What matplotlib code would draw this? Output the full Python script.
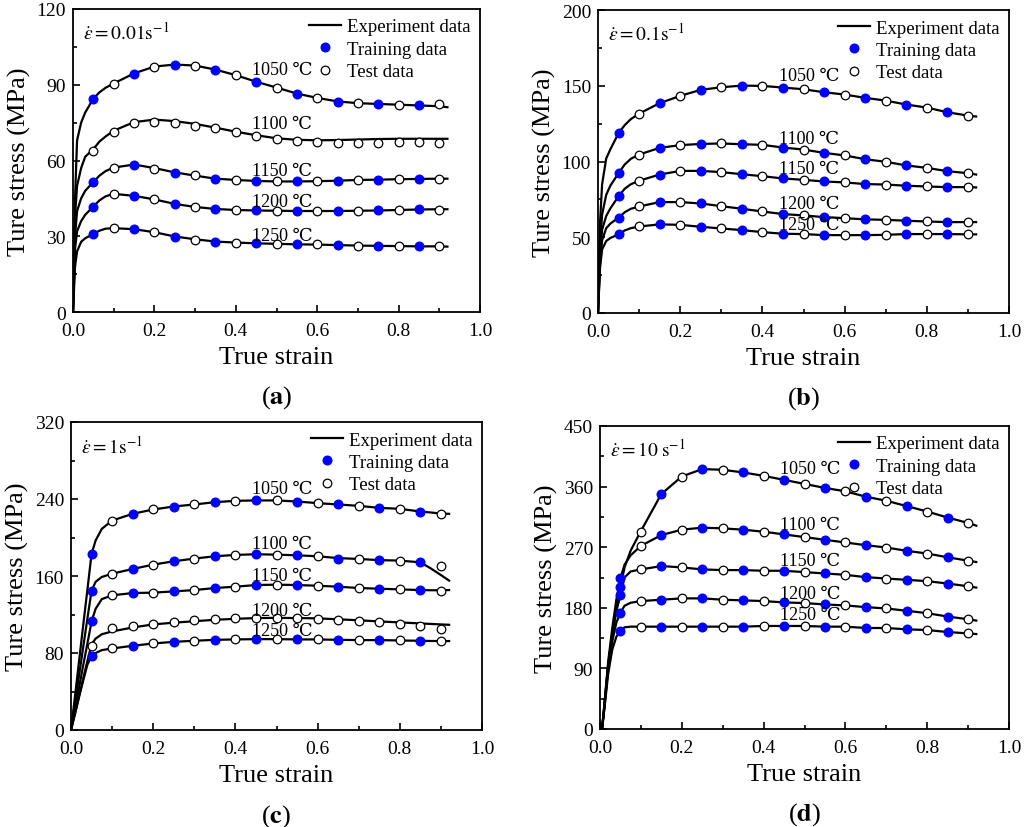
import matplotlib
matplotlib.use("Agg")
import matplotlib.pyplot as plt
from matplotlib.lines import Line2D
from matplotlib.ticker import MultipleLocator

plt.rcParams['font.family'] = ['Liberation Serif', 'DejaVu Serif']
plt.rcParams['mathtext.fontset'] = 'stix'

temps = [1050, 1100, 1150, 1200, 1250]

# strain of the model points (training / test)
pred_strain = [0.05, 0.10, 0.15, 0.20, 0.25, 0.30, 0.35, 0.40, 0.45,
               0.50, 0.55, 0.60, 0.65, 0.70, 0.75, 0.80, 0.85, 0.90]
train_strain = [0.05, 0.15, 0.25, 0.35, 0.45, 0.55, 0.65, 0.75, 0.85]

# ---------- (a) 0.01 s-1 ----------
exp_strain_a = [0, 0.005, 0.01, 0.02, 0.03, 0.05, 0.065, 0.08, 0.1, 0.15, 0.2, 0.25, 0.3,
                0.35, 0.4, 0.45, 0.5, 0.55, 0.6, 0.65, 0.7, 0.75, 0.8, 0.85, 0.9, 0.92]
exp_a = {
    1050: [0, 45, 68, 75, 79, 84.5, 87, 88.8, 90.5, 94.5, 97.2, 98.0, 97.6, 96.0, 93.8, 91.2,
           88.9, 86.5, 84.8, 83.4, 82.7, 82.4, 82.1, 81.8, 81.5, 81.1],
    1100: [0, 38, 50, 57, 61.5, 64.5, 67.5, 69.5, 71.8, 75.2, 76.2, 75.6, 74.5, 73.0, 71.4, 70.0,
           68.8, 68.2, 68.0, 68.1, 68.3, 68.5, 68.6, 68.6, 68.6, 68.6],
    1150: [0, 30, 40, 45, 48, 51.5, 54, 55.8, 57.2, 58.4, 57.0, 55.3, 54.0, 52.8, 52.3, 51.9,
           51.7, 51.7, 51.8, 52.0, 52.3, 52.4, 52.6, 52.7, 52.8, 52.8],
    1200: [0, 25, 32, 36, 38.5, 41.8, 44.2, 45.8, 46.8, 46.0, 44.6, 42.8, 41.6, 40.8, 40.4, 40.2,
           40.1, 40.0, 40.0, 40.0, 40.1, 40.2, 40.4, 40.6, 40.7, 40.7],
    1250: [0, 18, 24, 27.8, 29.2, 30.9, 32.2, 33.0, 33.2, 32.8, 31.6, 29.9, 28.8, 27.9, 27.5, 27.2,
           27.0, 26.8, 26.7, 26.5, 26.3, 26.2, 26.1, 26.0, 26.0, 25.9],
}
pred_a = {
    1050: [84.4, 90.2, 94.4, 97.1, 98.0, 97.5, 95.9, 93.8, 91.1, 88.9, 86.4, 84.9, 83.3, 82.7, 82.4, 82.0, 81.9, 82.4],
    1100: [63.6, 71.3, 74.8, 75.2, 74.9, 73.8, 72.7, 71.2, 69.9, 68.6, 67.8, 67.3, 67.0, 67.0, 67.1, 67.2, 67.2, 67.0],
    1150: [51.3, 57.0, 58.3, 56.7, 55.1, 54.1, 52.7, 52.4, 51.8, 51.7, 51.7, 51.7, 52.0, 52.4, 52.2, 52.7, 52.7, 52.7],
    1200: [41.5, 46.6, 46.0, 44.7, 42.6, 41.5, 40.7, 40.5, 40.2, 40.1, 40.0, 40.0, 40.0, 40.1, 40.2, 40.5, 40.7, 40.5],
    1250: [30.7, 33.1, 32.7, 31.5, 29.8, 28.7, 27.8, 27.4, 27.2, 27.0, 26.8, 26.8, 26.4, 26.2, 26.2, 26.1, 26.0, 26.0],
}
label_y_a = [96.2, 74.5, 56, 43.8, 30.2]

# ---------- (b) 0.1 s-1 ----------
exp_strain_b = exp_strain_a
exp_b = {
    1050: [0, 60, 85, 102, 108, 118.7, 124, 128, 131.6, 138.5, 143.3, 147.3, 149.0, 150.1, 149.9,
           148.8, 147.7, 145.7, 144.2, 142.0, 140.2, 137.6, 135.6, 132.5, 130.3, 129.7],
    1100: [0, 45, 65, 78, 84, 92.3, 98, 101.8, 104.6, 109.0, 110.8, 111.6, 111.9, 111.4, 111.0,
           109.2, 107.9, 105.7, 104.0, 101.5, 99.8, 97.4, 95.8, 93.6, 92.3, 91.4],
    1150: [0, 38, 55, 64, 69, 77.1, 82, 85, 87.3, 91.4, 93.8, 93.8, 93.0, 91.6, 90.3, 88.8, 87.9,
           86.8, 86.2, 85.1, 84.8, 84.0, 83.5, 83.1, 83.1, 82.9],
    1200: [0, 33, 48, 56, 59, 62.9, 66.5, 68.8, 70.3, 73.2, 73.2, 72.3, 70.5, 68.8, 67.0, 65.3,
           64.4, 63.3, 62.6, 61.8, 61.5, 60.9, 60.4, 60.0, 60.0, 60.0],
    1250: [0, 30, 42, 47.5, 49.5, 51.9, 54.5, 56, 57.1, 58.5, 58.2, 56.9, 55.8, 54.7, 53.4, 52.3,
           52.1, 51.4, 51.4, 51.4, 51.6, 52.1, 52.1, 52.1, 51.9, 51.9],
}
pred_b = {
    1050: [118.7, 131.6, 138.5, 143.3, 147.3, 149.0, 150.1, 149.9, 148.8, 147.7, 145.7, 144.2, 142.0, 140.2, 137.6, 135.6, 132.5, 130.3],
    1100: [92.3, 104.6, 109.0, 110.8, 111.6, 111.9, 111.4, 111.0, 109.2, 107.9, 105.7, 104.0, 101.5, 99.8, 97.4, 95.8, 93.6, 92.3],
    1150: [77.1, 87.3, 91.4, 93.8, 93.8, 93.0, 91.6, 90.3, 88.8, 87.9, 86.8, 86.2, 85.1, 84.8, 84.0, 83.5, 83.1, 83.1],
    1200: [62.9, 70.3, 73.2, 73.2, 72.3, 70.5, 68.8, 67.0, 65.3, 64.4, 63.3, 62.6, 61.8, 61.5, 60.9, 60.4, 60.0, 60.0],
    1250: [51.9, 57.1, 58.5, 58.2, 56.9, 55.8, 54.7, 53.4, 52.3, 52.1, 51.4, 51.4, 51.4, 51.6, 52.1, 52.1, 52.1, 51.9],
}
label_y_b = [157, 115.3, 95.5, 72.2, 58.5]

# ---------- (c) 1 s-1 ----------
exp_strain_c = [0, 0.01, 0.02, 0.03, 0.04, 0.05, 0.06, 0.075, 0.1, 0.15, 0.2, 0.25, 0.3, 0.35,
                0.4, 0.45, 0.5, 0.55, 0.6, 0.65, 0.7, 0.75, 0.8, 0.85, 0.875, 0.9, 0.92]
exp_c = {
    1050: [0, 36, 73, 110, 146, 183, 197, 209, 217.6, 224.6, 229.1, 232.2, 234.3, 236.7, 238.1,
           238.5, 238.5, 237.4, 235.7, 234.3, 232.9, 230.8, 229.8, 227.0, 226, 224.9, 224.6],
    1100: [0, 29, 58, 87, 116, 144.7, 154, 159, 162.4, 167.3, 171.8, 175.3, 178.1, 180.5, 181.9,
           182.6, 182.2, 181.5, 180.5, 178.6, 177.7, 176.5, 176.0, 174.2, 168, 161, 155.2],
    1150: [0, 22, 45, 68, 90, 112.8, 126, 136, 139.9, 142.3, 142.7, 144.0, 145.4, 147.5, 148.9,
           150.6, 151.0, 150.6, 149.9, 148.9, 147.5, 146.8, 146.1, 145.4, 145.2, 145.2, 145.4],
    1200: [0, 18, 36, 54, 72, 89, 95, 99.5, 102.4, 106.5, 109.7, 111.5, 113.0, 114.5, 115.5,
           116.3, 116.5, 116.3, 116.0, 115.0, 114.0, 112.8, 111.8, 110.7, 110.2, 109.7, 109.3],
    1250: [0, 17, 35, 52, 68, 76.4, 80, 83, 84.7, 87.5, 89.9, 91.6, 92.7, 93.7, 94.1, 94.4, 94.4,
           94.1, 94.1, 93.7, 93.4, 93.4, 93.0, 92.7, 92.5, 92.4, 92.4],
}
pred_c = {
    1050: [183.3, 217.6, 224.6, 229.1, 232.2, 234.3, 236.7, 238.1, 238.5, 238.5, 237.4, 235.7, 234.3, 232.9, 230.8, 229.8, 227.0, 224.9],
    1100: [144.7, 162.4, 167.3, 171.8, 175.3, 178.1, 180.5, 181.9, 182.6, 182.2, 181.5, 180.5, 178.1, 177.7, 176.3, 176.0, 174.2, 170.1],
    1150: [112.8, 139.9, 142.3, 142.7, 144.0, 145.4, 147.5, 148.9, 150.6, 151.0, 150.6, 149.9, 148.9, 147.5, 146.8, 146.1, 145.4, 144.4],
    1200: [87.5, 105.5, 108.3, 110.4, 112.5, 113.8, 115.2, 115.9, 116.3, 116.3, 116.3, 115.2, 114.5, 113.5, 112.1, 110.0, 107.6, 105.2],
    1250: [76.4, 84.7, 87.5, 89.9, 91.6, 92.7, 93.7, 94.1, 94.4, 94.4, 94.1, 94.1, 93.7, 93.4, 93.4, 93.0, 92.7, 92.0],
}
label_y_c = [251, 193.3, 160.3, 123.9, 103]

# ---------- (d) 10 s-1 ----------
exp_strain_d = [0.005, 0.01, 0.02, 0.03, 0.04, 0.05, 0.06, 0.075, 0.1, 0.15, 0.2, 0.25, 0.3,
                0.35, 0.4, 0.45, 0.5, 0.55, 0.6, 0.65, 0.7, 0.75, 0.8, 0.85, 0.9, 0.92]
exp_d = {
    1050: [0, 30, 95, 140, 178, 211, 240, 265, 294, 349, 375, 386, 385, 381, 376, 370, 364, 358,
           353, 345, 339, 331, 323, 314, 306, 302],
    1100: [0, 32, 100, 150, 192, 224, 244, 258, 272, 288, 296, 299, 298, 296, 293, 289, 285, 281,
           277, 273, 269.5, 264.6, 260.6, 255, 250, 248],
    1150: [0, 30, 95, 140, 175, 199, 225, 234, 237, 242, 240, 237, 236, 236, 235, 235, 233, 231,
           229, 225.5, 223.5, 221.5, 219.6, 216, 212, 210],
    1200: [0, 28, 90, 130, 158, 173, 183, 187.5, 190, 192, 194, 194, 192, 191, 190, 188, 187, 185,
           183.5, 181, 179, 175.6, 172, 167, 163, 161],
    1250: [0, 26, 82, 118, 137, 146, 151, 152, 152, 152, 152, 152, 152, 152, 153, 153, 153, 152,
           152, 150, 150, 148, 147, 144, 142, 141],
}
pred_d = {
    1050: [211, 293, 348.6, 375, 386, 385, 381, 376, 370, 364, 358, 353, 345, 339, 331, 323, 314, 306],
    1100: [224, 272, 288, 296, 299, 298, 296, 293, 289, 285, 281, 277, 273, 269.5, 264.6, 260.6, 255, 250],
    1150: [199, 237, 242, 240, 237, 236, 236, 235, 235, 233, 231, 229, 225.5, 223.5, 221.5, 219.6, 216, 212],
    1200: [173, 190, 192, 194, 194, 192, 191, 190, 188, 187, 185, 183.5, 181, 179, 175.6, 172, 167, 163],
    1250: [146, 152, 152, 152, 152, 152, 152, 153, 153, 153, 152, 152, 150, 150, 148, 147, 144, 142],
}
label_y_d = [386.8, 304, 249.7, 201.8, 170.6]

panels = [
    ('a', r'$\dot{\varepsilon}=0.01\mathrm{s}^{-1}$', exp_strain_a, exp_a, pred_a, label_y_a, 120, 30, [1100]),
    ('b', r'$\dot{\varepsilon}=0.1\mathrm{s}^{-1}$', exp_strain_b, exp_b, pred_b, label_y_b, 200, 50, []),
    ('c', r'$\dot{\varepsilon}=1\mathrm{s}^{-1}$', exp_strain_c, exp_c, pred_c, label_y_c, 320, 80, [1200]),
    ('d', r'$\dot{\varepsilon}=10\;\mathrm{s}^{-1}$', exp_strain_d, exp_d, pred_d, label_y_d, 450, 90, []),
]

W, H = 1024, 828
# axes boxes in pixels: left, top, right, bottom
boxes = [(73, 10, 480, 313), (598, 11, 1009, 314), (71, 423, 482, 731), (600, 427, 1009, 730)]

fig = plt.figure(figsize=(W / 100, H / 100), dpi=100)

for (tag, rate, xs, exp, pred, lab_y, ymax, ystep, test_only), (l, t, r, b) in zip(panels, boxes):
    ax = fig.add_axes([l / W, 1 - b / H, (r - l) / W, (b - t) / H])

    for k, T in enumerate(temps):
        ax.plot(xs, exp[T], color='black', lw=1.6, zorder=2)
        is_train = [s in train_strain and T not in test_only for s in pred_strain]
        tr_x = [s for s, f in zip(pred_strain, is_train) if f]
        tr_y = [v for v, f in zip(pred[T], is_train) if f]
        te_x = [s for s, f in zip(pred_strain, is_train) if not f]
        te_y = [v for v, f in zip(pred[T], is_train) if not f]
        ax.plot(tr_x, tr_y, 'o', ms=6.2, mfc='#0000ff', mec='#0000ff', zorder=3)
        ax.plot(te_x, te_y, 'o', ms=6.2, mfc='white', mec='black', mew=0.9, zorder=3)
        ax.text(0.44, lab_y[k], f'{T} ℃', fontsize=13, ha='left', va='center', zorder=4)

    ax.set_xlim(0, 1.0)
    ax.set_ylim(0, ymax)
    ax.xaxis.set_major_locator(MultipleLocator(0.2))
    ax.xaxis.set_minor_locator(MultipleLocator(0.1))
    ax.yaxis.set_major_locator(MultipleLocator(ystep))
    ax.yaxis.set_minor_locator(MultipleLocator(ystep / 2))
    ax.xaxis.set_major_formatter(plt.FuncFormatter(lambda v, p: f'{v:.1f}'))
    ax.tick_params(which='both', direction='in', labelsize=14, width=1.2)
    ax.tick_params(which='major', length=5)
    ax.tick_params(which='minor', length=3)
    ax.tick_params(axis='x', which='major', pad=7)
    ax.tick_params(axis='y', which='major', pad=5)
    for sp in ax.spines.values():
        sp.set_linewidth(1.3)

    ax.set_ylabel('Ture stress (MPa)', fontsize=19)
    ax.yaxis.set_label_coords(-0.102, 0.5)
    ax.set_xlabel('True strain', fontsize=19)
    ax.xaxis.set_label_coords(0.5, -0.112)
    ax.text(0.5, -0.278, rf'($\mathbf{{{tag}}}$)', transform=ax.transAxes,
            ha='center', va='center', fontsize=19)

    ax.text(0.025, 0.925, rate, transform=ax.transAxes, fontsize=14, ha='left', va='center')

    handles = [
        Line2D([], [], color='black', lw=1.6),
        Line2D([], [], ls='', marker='o', ms=6.2, mfc='#0000ff', mec='#0000ff'),
        Line2D([], [], ls='', marker='o', ms=6.2, mfc='white', mec='black', mew=0.9),
    ]
    ax.legend(handles, ['Experiment data', 'Training data', 'Test data'], loc='upper right',
              frameon=False, fontsize=13.5, handlelength=1.75, handletextpad=0.3,
              labelspacing=0.28, borderaxespad=0.3, borderpad=0.2)

fig.savefig('out.png', dpi=100)
